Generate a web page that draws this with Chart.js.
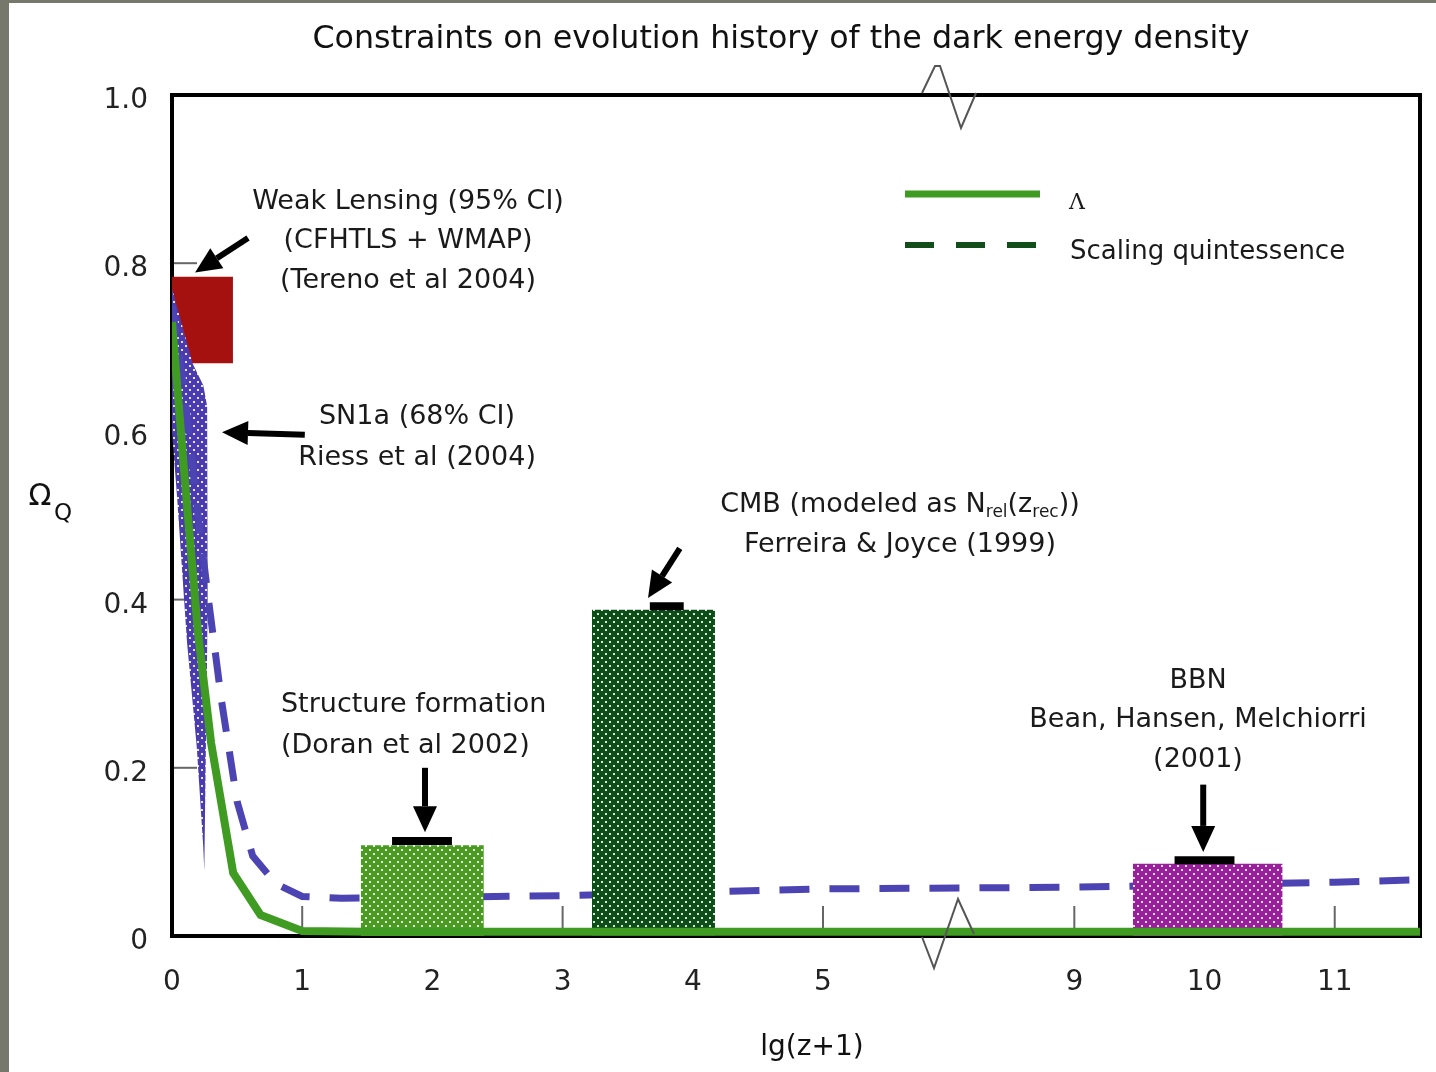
<!DOCTYPE html>
<html>
<head>
<meta charset="utf-8">
<script src="https://cdn.jsdelivr.net/npm/chart.js@4.4.1/dist/chart.umd.min.js"></script>
<style>
  html, body { margin: 0; padding: 0; background: #fff; }
  #wrap { width: 1436px; height: 1072px; }
</style>
</head>
<body>
<div id="wrap"><canvas id="chart" width="1436" height="1072"></canvas></div>
<script>
// eixo x quebrado: 0..5, depois 9..11
const xTickValues = [0, 1, 2, 3, 4, 5, 9, 10, 11];
const xTickLabels = ['0', '1', '2', '3', '4', '5', '9', '10', '11'];
const xMarkTicks = [1, 3, 5, 9, 11];
const yMarkTicks = [0.2, 0.4, 0.6, 0.8];
const breakAt = 6;        // depois disso os valores sao deslocados
const breakShift = 2.07;
const xEnd = 11.655;

// curva Lambda
const lambdaX = [0, 0.1, 0.2, 0.3, 0.47, 0.68, 1.0, 1.5, 11.7];
const lambdaY = [0.73, 0.54, 0.36, 0.23, 0.075, 0.025, 0.006, 0.005, 0.005];

// scaling quintessence
const scalingX = [0, 0.1, 0.2, 0.28, 0.38, 0.5, 0.62, 0.8, 1.0, 1.3, 2, 3, 4, 5, 9, 10, 11, 11.7];
const scalingY = [0.75, 0.64, 0.5, 0.40, 0.28, 0.16, 0.095, 0.062, 0.047, 0.045, 0.046, 0.048, 0.052, 0.056, 0.058, 0.061, 0.064, 0.067];

// SN1a (68% CI) - borda de cima e de baixo
const snUpperX = [0, 0.16, 0.24, 0.27, 0.275];
const snUpperY = [0.77, 0.68, 0.655, 0.63, 0.40];
const snLowerX = [0, 0.04, 0.115, 0.19, 0.24, 0.248, 0.275];
const snLowerY = [0.60, 0.52, 0.35, 0.225, 0.106, 0.078, 0.40];

// Weak lensing
const lensingX = [0, 0.468];
const lensingRange = [0.681, 0.784];

// caixas: structure formation, CMB, BBN
const structX = [1.45, 2.395];
const structTop = 0.108;
const cmbX = [3.225, 4.17];
const cmbTop = 0.388;
const bbnX = [9.45, 10.6];
const bbnTop = 0.086;

// limites (barras pretas)
const structCapX = [1.69, 2.15];
const structCapY = 0.113;
const cmbCapX = [3.67, 3.93];
const cmbCapY = 0.392;
const bbnCapX = [9.77, 10.23];
const bbnCapY = 0.090;

function toPos(v) {
    return v > breakAt ? v - breakShift : v;
}

function pts(xs, ys) {
    return xs.map((x, i) => ({ x: toPos(x), y: Array.isArray(ys) ? ys[i] : ys }));
}

// padrao pontilhado branco
function dotted(color) {
    const c = document.createElement('canvas');
    c.width = 8;
    c.height = 8;
    const g = c.getContext('2d');
    g.fillStyle = color;
    g.fillRect(0, 0, 8, 8);
    g.fillStyle = 'rgba(255,255,255,0.85)';
    g.fillRect(1, 1, 2, 2);
    g.fillRect(5, 5, 2, 2);
    return g.createPattern(c, 'repeat');
}

const FONT = '"DejaVu Sans", Verdana, sans-serif';
const NONE = 'rgba(0,0,0,0)';

// textos (x em lg(z+1), y em Omega)
const notes = [
    { text: 'Weak Lensing (95% CI)', x: 1.813, y: 0.873, align: 'center' },
    { text: '(CFHTLS + WMAP)', x: 1.813, y: 0.826, align: 'center' },
    { text: '(Tereno et al 2004)', x: 1.813, y: 0.779, align: 'center' },
    { text: 'SN1a (68% CI)', x: 1.882, y: 0.617, align: 'center' },
    { text: 'Riess et al (2004)', x: 1.882, y: 0.568, align: 'center' },
    { text: 'Ferreira & Joyce (1999)', x: 5.591, y: 0.465, align: 'center' },
    { text: 'Structure formation', x: 0.837, y: 0.275, align: 'left' },
    { text: '(Doran et al 2002)', x: 0.837, y: 0.226, align: 'left' },
    { text: 'BBN', x: 9.95, y: 0.303, align: 'center' },
    { text: 'Bean, Hansen, Melchiorri', x: 9.95, y: 0.257, align: 'center' },
    { text: '(2001)', x: 9.95, y: 0.209, align: 'center' }
];

// setas: [x0, y0, x1 (ponta), y1]
const arrows = [
    [0.584, 0.830, 0.177, 0.789],
    [1.02, 0.596, 0.384, 0.599],
    [3.90, 0.461, 3.656, 0.402],
    [1.943, 0.200, 1.943, 0.1235],
    [9.99, 0.180, 9.99, 0.100]
];

function drawArrow(ctx, x0, y0, x1, y1) {
    const ang = Math.atan2(y1 - y0, x1 - x0);
    const headLen = 26, headW = 12;
    const bx = x1 - headLen * Math.cos(ang);
    const by = y1 - headLen * Math.sin(ang);
    ctx.strokeStyle = '#000';
    ctx.lineWidth = 6;
    ctx.lineCap = 'butt';
    ctx.beginPath();
    ctx.moveTo(x0, y0);
    ctx.lineTo(bx, by);
    ctx.stroke();
    ctx.fillStyle = '#000';
    ctx.beginPath();
    ctx.moveTo(x1, y1);
    ctx.lineTo(bx + headW * Math.sin(ang), by - headW * Math.cos(ang));
    ctx.lineTo(bx - headW * Math.sin(ang), by + headW * Math.cos(ang));
    ctx.closePath();
    ctx.fill();
}

const decorPlugin = {
    id: 'decor',
    beforeDraw(chart) {
        const ctx = chart.ctx;
        ctx.save();
        ctx.fillStyle = '#76786b';
        ctx.fillRect(0, 0, chart.width, chart.height);
        ctx.fillStyle = '#ffffff';
        ctx.fillRect(9, 3, chart.width - 9, chart.height - 3);
        ctx.restore();
    },
    beforeDatasetsDraw(chart) {
        const ctx = chart.ctx;
        const a = chart.chartArea;
        const xs = chart.scales.x, ys = chart.scales.y;
        ctx.save();
        // marcas internas
        ctx.strokeStyle = '#666';
        ctx.lineWidth = 2;
        yMarkTicks.forEach(v => {
            const y = ys.getPixelForValue(v);
            ctx.beginPath();
            ctx.moveTo(a.left, y);
            ctx.lineTo(a.left + 25, y);
            ctx.stroke();
        });
        xMarkTicks.forEach(v => {
            const x = xs.getPixelForValue(toPos(v));
            ctx.beginPath();
            ctx.moveTo(x, a.bottom);
            ctx.lineTo(x, a.bottom - 30);
            ctx.stroke();
        });
        // moldura
        ctx.strokeStyle = '#000';
        ctx.lineWidth = 4;
        ctx.strokeRect(a.left, a.top, a.right - a.left, a.bottom - a.top);
        ctx.restore();
    },
    afterDraw(chart) {
        const ctx = chart.ctx;
        const a = chart.chartArea;
        const xs = chart.scales.x, ys = chart.scales.y;
        ctx.save();

        // titulo
        const title = 'Constraints on evolution history of the dark energy density';
        ctx.font = '28px ' + FONT;
        const tw = ctx.measureText(title).width;
        const ts = 28 * 937 / tw;
        ctx.font = ts.toFixed(1) + 'px ' + FONT;
        ctx.fillStyle = '#111';
        ctx.textAlign = 'center';
        ctx.textBaseline = 'middle';
        ctx.fillText(title, 781, 40);

        // titulos dos eixos
        ctx.font = '28px ' + FONT;
        ctx.fillText('lg(z+1)', 812, 1048);
        ctx.font = '30px ' + FONT;
        ctx.fillText('\u03A9', 40, 497);
        ctx.font = '23px ' + FONT;
        ctx.fillText('Q', 63, 514);

        // anotacoes
        ctx.fillStyle = '#1a1a1a';
        ctx.font = '27px ' + FONT;
        notes.forEach(n => {
            ctx.textAlign = n.align;
            ctx.fillText(n.text, xs.getPixelForValue(toPos(n.x)), ys.getPixelForValue(n.y));
        });

        // CMB com subscritos
        const parts = [['CMB (modeled as N', 0], ['rel', 1], ['(z', 0], ['rec', 1], ['))', 0]];
        let total = 0;
        parts.forEach(p => {
            ctx.font = (p[1] ? '17px ' : '27px ') + FONT;
            total += ctx.measureText(p[0]).width;
        });
        let cx = xs.getPixelForValue(toPos(5.591)) - total / 2;
        const cy = ys.getPixelForValue(0.5125);
        ctx.textAlign = 'left';
        parts.forEach(p => {
            ctx.font = (p[1] ? '17px ' : '27px ') + FONT;
            ctx.fillText(p[0], cx, p[1] ? cy + 8 : cy);
            cx += ctx.measureText(p[0]).width;
        });

        // setas
        arrows.forEach(s => {
            drawArrow(ctx,
                xs.getPixelForValue(toPos(s[0])), ys.getPixelForValue(s[1]),
                xs.getPixelForValue(toPos(s[2])), ys.getPixelForValue(s[3]));
        });

        // legenda
        ctx.lineWidth = 7;
        ctx.strokeStyle = '#409b22';
        ctx.beginPath();
        ctx.moveTo(905, 194);
        ctx.lineTo(1040, 194);
        ctx.stroke();
        ctx.lineWidth = 6;
        ctx.strokeStyle = '#124d1c';
        ctx.setLineDash([29, 22]);
        ctx.beginPath();
        ctx.moveTo(905, 245);
        ctx.lineTo(1043, 245);
        ctx.stroke();
        ctx.setLineDash([]);
        ctx.fillStyle = '#1a1a1a';
        ctx.textAlign = 'left';
        ctx.font = '22px "DejaVu Serif", serif';
        ctx.fillText('\u039B', 1069, 203);
        ctx.font = '26px ' + FONT;
        ctx.fillText('Scaling quintessence', 1070, 252);

        // simbolos de quebra do eixo
        const bx = xs.getPixelForValue(5.96);
        ctx.strokeStyle = '#555';
        ctx.lineWidth = 2;
        ctx.beginPath();
        ctx.moveTo(bx - 26, a.top - 2);
        ctx.lineTo(bx - 13, a.top - 29);
        ctx.lineTo(bx - 8, a.top - 29);
        ctx.lineTo(bx + 13, a.top + 33);
        ctx.lineTo(bx + 28, a.top - 2);
        ctx.stroke();
        ctx.beginPath();
        ctx.moveTo(bx - 26, a.bottom + 1);
        ctx.lineTo(bx - 14, a.bottom + 32);
        ctx.lineTo(bx + 10, a.bottom - 37);
        ctx.lineTo(bx + 26, a.bottom - 2);
        ctx.stroke();

        ctx.restore();
    }
};

const ctx = document.getElementById('chart').getContext('2d');
new Chart(ctx, {
    type: 'line',
    data: {
        datasets: [
            { label: 'Lambda', data: pts(lambdaX, lambdaY), borderColor: '#409b22', borderWidth: 8, fill: false },
            { label: 'structCap', data: pts(structCapX, structCapY), borderColor: '#000', borderWidth: 8, fill: false },
            { label: 'cmbCap', data: pts(cmbCapX, cmbCapY), borderColor: '#000', borderWidth: 8, fill: false },
            { label: 'bbnCap', data: pts(bbnCapX, bbnCapY), borderColor: '#000', borderWidth: 8, fill: false },
            { label: 'Structure formation', data: pts(structX, structTop), borderColor: NONE, backgroundColor: dotted('#4b9b22'), fill: { value: 0 } },
            { label: 'CMB', data: pts(cmbX, cmbTop), borderColor: NONE, backgroundColor: dotted('#0c4d18'), fill: { value: 0 } },
            { label: 'BBN', data: pts(bbnX, bbnTop), borderColor: NONE, backgroundColor: dotted('#9a1f9c'), fill: { value: 0 } },
            { label: 'Scaling quintessence', data: pts(scalingX, scalingY), borderColor: '#4d44b3', borderWidth: 7, borderDash: [30, 20], fill: false },
            { label: 'SN1a', data: pts(snUpperX, snUpperY), borderColor: NONE, backgroundColor: dotted('#4a3cb0'), fill: '+1' },
            { label: 'SN1a low', data: pts(snLowerX, snLowerY), borderColor: NONE, fill: false },
            { label: 'Weak lensing', data: pts(lensingX, lensingRange[1]), borderColor: NONE, backgroundColor: '#a5110f', fill: { value: lensingRange[0] } }
        ]
    },
    options: {
        responsive: false,
        animation: false,
        layout: { padding: { top: 95, right: 16, bottom: 0, left: 0 } },
        elements: { point: { radius: 0 }, line: { tension: 0, borderCapStyle: 'butt' } },
        plugins: { legend: { display: false }, tooltip: { enabled: false } },
        scales: {
            x: {
                type: 'linear',
                min: 0,
                max: xEnd - breakShift,
                afterBuildTicks: s => { s.ticks = xTickValues.map(v => ({ value: toPos(v) })); },
                afterFit: s => { s.height = 136; },
                grid: { display: false, drawTicks: false },
                border: { display: false },
                ticks: {
                    autoSkip: false,
                    maxRotation: 0,
                    padding: 30,
                    color: '#222',
                    font: { family: 'DejaVu Sans', size: 28 },
                    callback: (v, i) => xTickLabels[i]
                }
            },
            y: {
                min: 0,
                max: 1,
                afterFit: s => { s.width = 172; },
                grid: { display: false, drawTicks: false },
                border: { display: false },
                ticks: {
                    stepSize: 0.2,
                    padding: 24,
                    labelOffset: 6,
                    color: '#222',
                    font: { family: 'DejaVu Sans', size: 28 },
                    callback: v => v === 0 ? '0' : v.toFixed(1)
                }
            }
        }
    },
    plugins: [decorPlugin]
});
</script>
</body>
</html>
